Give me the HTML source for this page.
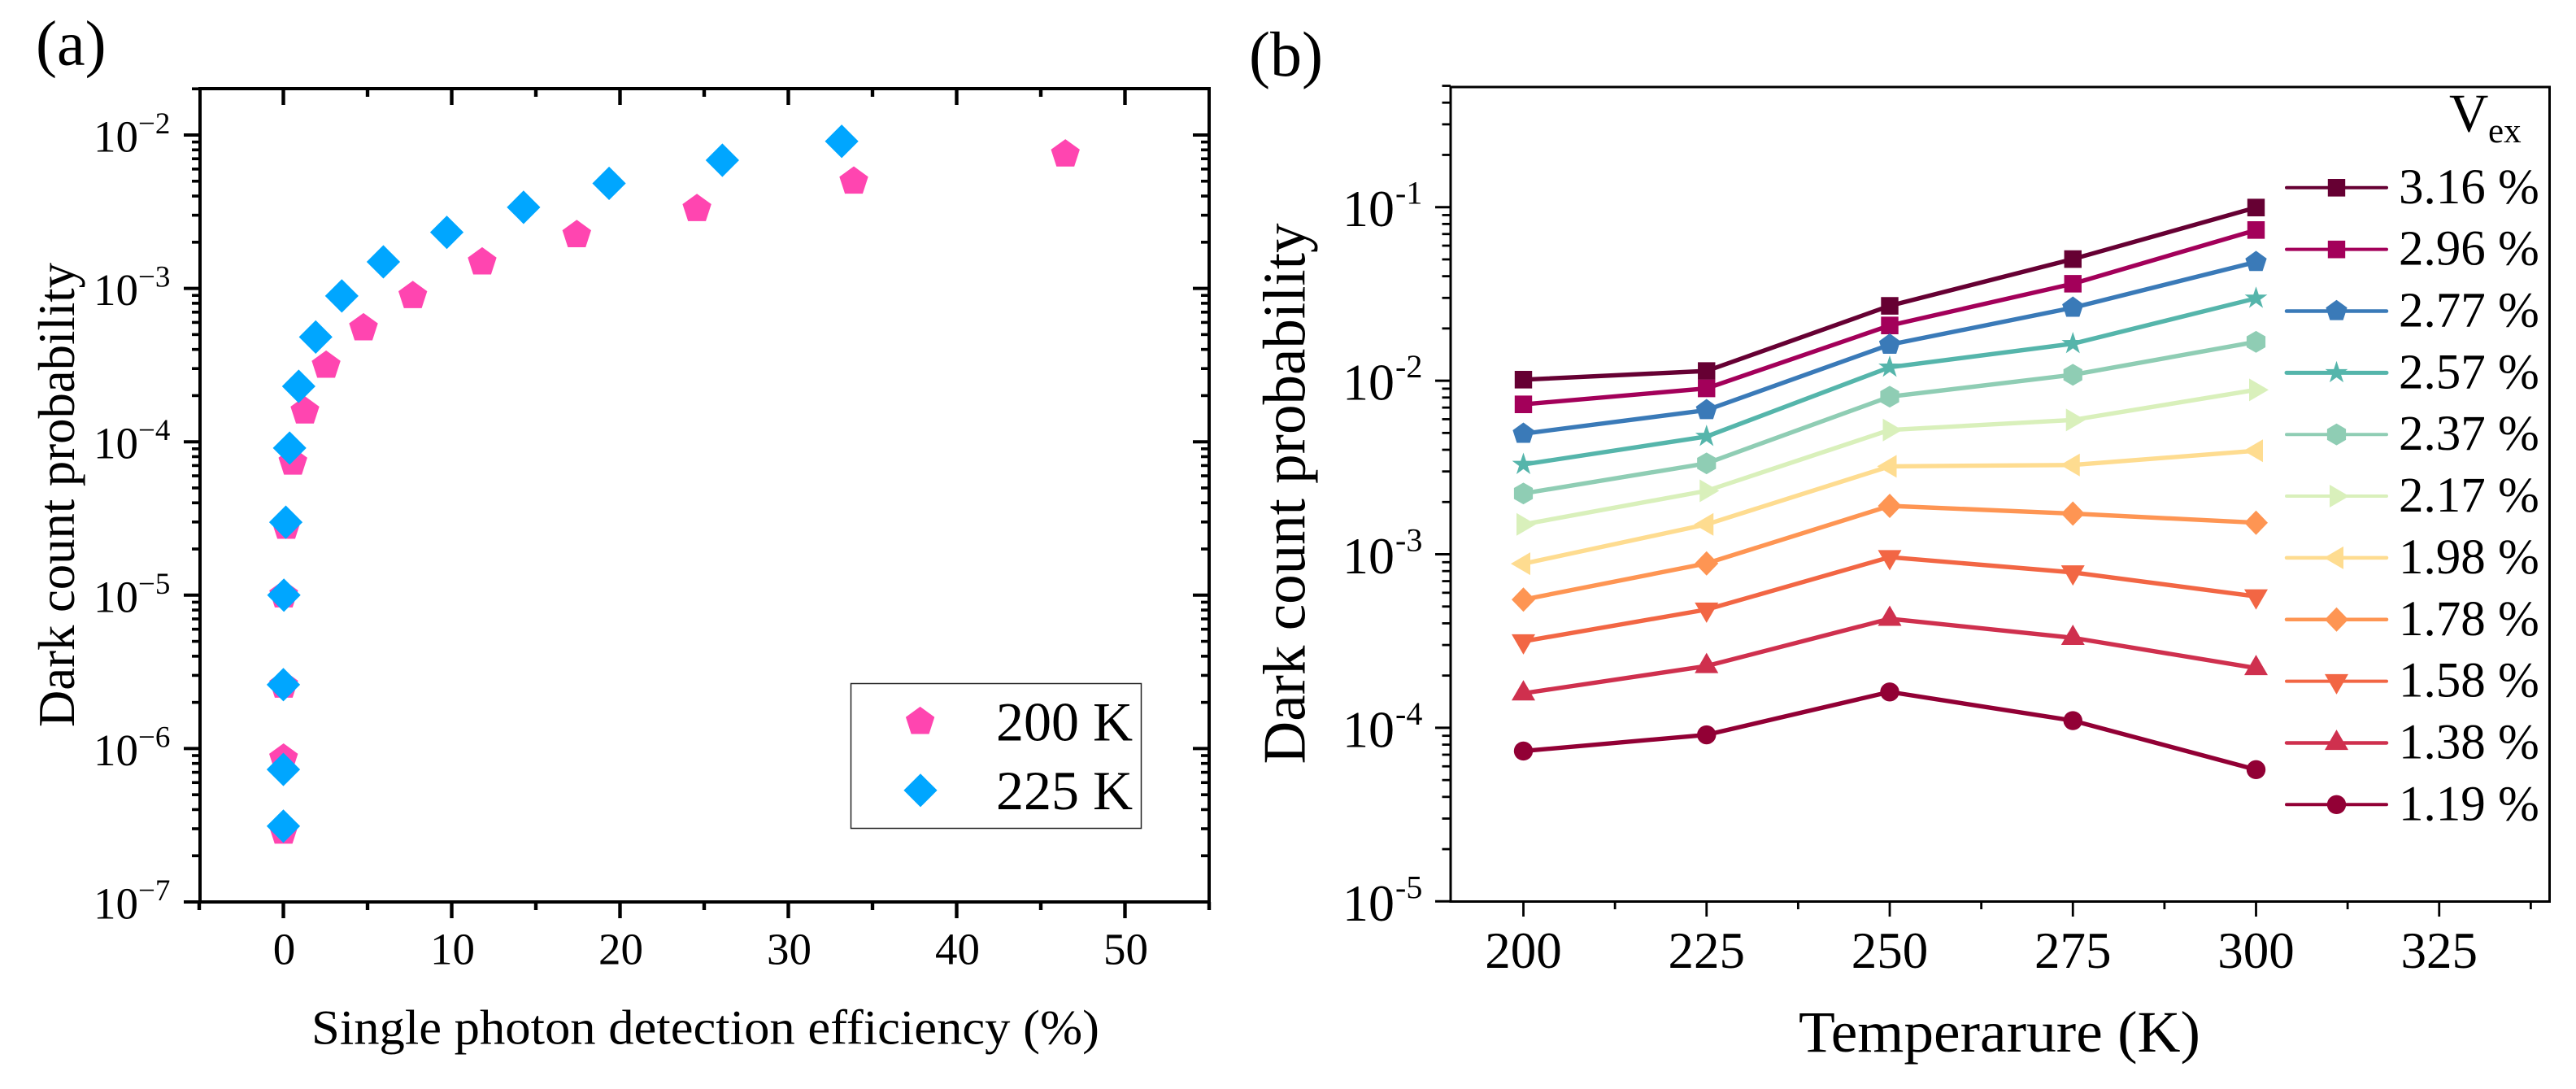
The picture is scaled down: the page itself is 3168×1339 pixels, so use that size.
<!DOCTYPE html>
<html lang="en">
<head>
<meta charset="utf-8">
<title>Dark count probability charts</title>
<style>
html,body{margin:0;padding:0;background:#fff;}
svg{display:block;}
text{font-family:"Liberation Serif","Times New Roman",serif;fill:#000;}
</style>
</head>
<body>
<svg id="figure" xmlns="http://www.w3.org/2000/svg" width="3168" height="1339" viewBox="0 0 3168 1339">
  <rect x="0" y="0" width="3168" height="1339" fill="#ffffff"/>

  <text x="44" y="79.5" font-size="78">(a)</text>
  <text x="1536" y="93" font-size="78">(b)</text>

  <g id="panel-a">
    <rect x="246" y="109" width="1241" height="1000" fill="none" stroke="#000" stroke-width="4"/>
    <g id="a-ticks"></g>
    <g id="a-marks"></g>
    <text x="383" y="1283.5" font-size="60" textLength="969" lengthAdjust="spacingAndGlyphs">Single photon detection efficiency (%)</text>
    <text transform="translate(91,894) rotate(-90)" x="0" y="0" font-size="64" textLength="571" lengthAdjust="spacingAndGlyphs">Dark count probability</text>
    <g>
      <rect x="1046.5" y="840.5" width="357" height="178" fill="#fff" stroke="#222" stroke-width="1.5"/>
      <g id="a-legend-marks"></g>
      <text x="1225" y="910.5" font-size="68">200 K</text>
      <text x="1225" y="995" font-size="68">225 K</text>
    </g>
  </g>

  <g id="panel-b">
    <rect x="1784" y="107" width="1351.5" height="1001.5" fill="none" stroke="#000" stroke-width="3"/>
    <g id="b-ticks"></g>
    <g id="b-series"></g>
    <g id="b-legend">
      <text x="3012" y="161.5" font-size="67">V</text>
      <text x="3060" y="175" font-size="43">ex</text>
    </g>
    <text x="2212" y="1293" font-size="72" textLength="494" lengthAdjust="spacingAndGlyphs">Temperarure (K)</text>
    <text transform="translate(1604.5,939.5) rotate(-90)" x="0" y="0" font-size="74" textLength="665" lengthAdjust="spacingAndGlyphs">Dark count probability</text>
  </g>
</svg>

<script>
// Panel (a) data
const efficiency200K = [46.46, 33.89, 24.57, 17.43, 11.81, 7.69, 4.76, 2.54, 1.28, 0.565, 0.17, 0.02, 0.02, 0.01, 0.01];
const darkCount200K = [7.49e-3, 4.98e-3, 3.30e-3, 2.23e-3, 1.48e-3, 8.93e-4, 5.51e-4, 3.14e-4, 1.58e-4, 7.34e-5, 2.80e-5, 1.0e-5, 2.58e-6, 8.61e-7, 2.88e-7];
const efficiency225K = [33.17, 26.08, 19.35, 14.27, 9.71, 5.94, 3.47, 1.92, 0.91, 0.37, 0.145, 0.03, 0.0, 0.0, 0.0];
const darkCount225K = [9.1e-3, 6.85e-3, 4.84e-3, 3.38e-3, 2.32e-3, 1.49e-3, 8.93e-4, 4.82e-4, 2.30e-4, 9.1e-5, 2.99e-5, 1.0e-5, 2.61e-6, 7.31e-7, 3.12e-7];
const aXTickValues = [0, 10, 20, 30, 40, 50];
const aXTickLabels = ["0", "10", "20", "30", "40", "50"];
const aXMinorValues = [-5, 5, 15, 25, 35, 45, 55];
const aYDecades = [-7, -6, -5, -4, -3, -2];
const aYExponentLabels = ["\u22127", "\u22126", "\u22125", "\u22124", "\u22123", "\u22122"];

// Panel (b) data
const temperatures = [200, 225, 250, 275, 300];
const vexLabels = ["3.16 %", "2.96 %", "2.77 %", "2.57 %", "2.37 %", "2.17 %", "1.98 %", "1.78 %", "1.58 %", "1.38 %", "1.19 %"];
const seriesV316 = [0.01014, 0.01138, 0.0270, 0.0502, 0.0995];
const seriesV296 = [0.00731, 0.00903, 0.0208, 0.0362, 0.0738];
const seriesV277 = [0.00495, 0.00677, 0.01613, 0.02634, 0.0483];
const seriesV257 = [0.00329, 0.00477, 0.01195, 0.01634, 0.02983];
const seriesV237 = [0.00224, 0.00334, 0.00809, 0.01082, 0.01675];
const seriesV217 = [0.001486, 0.00232, 0.0052, 0.00594, 0.00886];
const seriesV198 = [0.000882, 0.001486, 0.00321, 0.00327, 0.00395];
const seriesV178 = [0.000548, 0.000886, 0.0019, 0.001715, 0.00152];
const seriesV158 = [0.000315, 0.00048, 0.000962, 0.000786, 0.000572];
const seriesV138 = [0.000158, 0.000227, 0.000425, 0.00033, 0.000221];
const seriesV119 = [7.35e-5, 9.11e-5, 0.000161, 0.00011, 5.74e-5];
const bXTickValues = [200, 225, 250, 275, 300, 325];
const bXTickLabels = ["200", "225", "250", "275", "300", "325"];
const bXMinorValues = [212.5, 237.5, 262.5, 287.5, 312.5, 337.5];
const bYDecades = [-5, -4, -3, -2, -1];
const bYExponentLabels = ["-5", "-4", "-3", "-2", "-1"];

const allSeriesB = [seriesV316, seriesV296, seriesV277, seriesV257, seriesV237, seriesV217, seriesV198, seriesV178, seriesV158, seriesV138, seriesV119];
const seriesColors = ["#660033", "#A3005A", "#3A7AB8", "#55B5AB", "#8FCDB4", "#D9F0BB", "#FEDC90", "#FE9553", "#F26644", "#CF304E", "#920035"];
const seriesShapes = ["square", "square", "pentagonSmall", "star", "hexagon", "triRight", "triLeft", "diamondSmall", "triDown", "triUp", "circle"];
const seriesWidths = [4, 4, 4.5, 5, 4, 4, 4.5, 4.5, 4, 4.5, 4];
const minorMultipliers = [2, 3, 4, 5, 6, 7, 8, 9];

const SVGNS = "http://www.w3.org/2000/svg";

// Axis functions
function xA(v) { return 348.5 + (v - 0) * 20.7; }
function yA(v) { return 1109 - (Math.log10(v) + 7) * 188.6; }
function xB(v) { return 1873.5 + (v - 200) * 9.01; }
function yB(v) { return 1108.3 - (Math.log10(v) + 5) * 213.4; }

function tickLine(parent, x1, y1, x2, y2, w) {
  const l = document.createElementNS(SVGNS, "line");
  l.setAttribute("x1", x1);
  l.setAttribute("y1", y1);
  l.setAttribute("x2", x2);
  l.setAttribute("y2", y2);
  l.setAttribute("stroke", "#000");
  l.setAttribute("stroke-width", w);
  
  
  parent.appendChild(l);
}

function label(parent, str, x, y, size, anchor) {
  const t = document.createElementNS(SVGNS, "text");
  t.setAttribute("x", x);
  t.setAttribute("y", y);
  t.setAttribute("font-size", size);
  if (anchor) t.setAttribute("text-anchor", anchor);
  t.textContent = str;
  
  
  parent.appendChild(t);
}

function regularPoints(r, n, rotDeg) {
  const pts = [];
  for (let i = 0; i < n; i++) {
    const a = (rotDeg + i * 360 / n - 90) * Math.PI / 180;
    pts.push([r * Math.cos(a), r * Math.sin(a)]);
  }
  return pts;
}

function shapePoints(shape) {
  if (shape === "pentagonLarge") return regularPoints(18.6, 5, 0);
  if (shape === "pentagonSmall") return regularPoints(13.8, 5, 0);
  if (shape === "diamondLarge") return [[0, -20.6], [20.6, 0], [0, 20.6], [-20.6, 0]];
  if (shape === "diamondSmall") return [[0, -15], [14.5, 0], [0, 15], [-14.5, 0]];
  if (shape === "square") return [[-10.7, -10.8], [10.7, -10.8], [10.7, 10.8], [-10.7, 10.8]];
  if (shape === "hexagon") return regularPoints(13.4, 6, 0);
  if (shape === "triRight") return [[-8.5, -14], [15.5, 0], [-8.5, 14]];
  if (shape === "triLeft") return [[8.5, -14], [8.5, 14], [-15.5, 0]];
  if (shape === "triDown") return [[-14.5, -8.7], [14.5, -8.7], [0, 16.3]];
  if (shape === "triUp") return [[0, -16.3], [14.5, 8.7], [-14.5, 8.7]];
  if (shape === "star") {
    const outer = regularPoints(14.6, 5, 0);
    const inner = regularPoints(5.6, 5, 36);
    const pts = [];
    for (let i = 0; i < 5; i++) { pts.push(outer[i]); pts.push(inner[i]); }
    return pts;
  }
  return null;
}

function drawMarker(parent, shape, cx, cy, color) {
  let m;
  if (shape === "circle") {
    m = document.createElementNS(SVGNS, "circle");
    m.setAttribute("cx", cx);
    m.setAttribute("cy", cy);
    m.setAttribute("r", 11.7);
  } else {
    m = document.createElementNS(SVGNS, "polygon");
    m.setAttribute("points", shapePoints(shape).map(p => (cx + p[0]).toFixed(2) + "," + (cy + p[1]).toFixed(2)).join(" "));
  }
  m.setAttribute("fill", color);
  
  
  parent.appendChild(m);
}

// Panel (a) ticks
const aTicks = document.getElementById("a-ticks");
aXTickValues.forEach((v, i) => {
  tickLine(aTicks, xA(v), 1109, xA(v), 1129, 4.4);
  tickLine(aTicks, xA(v), 109, xA(v), 129, 4.4);
  label(aTicks, aXTickLabels[i], xA(v) + 1, 1185.5, 55, "middle");
});
aXMinorValues.forEach(v => {
  tickLine(aTicks, xA(v), 1109, xA(v), 1119, 4.4);
  if (v > -5 && v < 55) tickLine(aTicks, xA(v), 109, xA(v), 119, 4.4);
});
aYDecades.forEach((d, i) => {
  const v = Math.pow(10, d);
  tickLine(aTicks, 226, yA(v), 246, yA(v), 4);
  tickLine(aTicks, 1467, yA(v), 1487, yA(v), 4);
  label(aTicks, "10", 115, yA(v) + 20.5, 55);
  label(aTicks, aYExponentLabels[i], 170, yA(v) - 2, 37);
  minorMultipliers.forEach(k => {
    const mv = k * v;
    if (mv <= 0.0201) {
      tickLine(aTicks, 236, yA(mv), 246, yA(mv), 3.6);
      if (mv < 0.0199) tickLine(aTicks, 1477, yA(mv), 1487, yA(mv), 3.6);
    }
  });
});

// Panel (a) scatter
const aMarks = document.getElementById("a-marks");
efficiency200K.forEach((e, i) => {
  drawMarker(aMarks, "pentagonLarge", xA(e), yA(darkCount200K[i]), "#FF45B0");
});
efficiency225K.forEach((e, i) => {
  drawMarker(aMarks, "diamondLarge", xA(e), yA(darkCount225K[i]), "#00A6FF");
});
const aLegendMarks = document.getElementById("a-legend-marks");
drawMarker(aLegendMarks, "pentagonLarge", 1131.6, 887.5, "#FF45B0");
drawMarker(aLegendMarks, "diamondLarge", 1132, 971.8, "#00A6FF");

// Panel (b) ticks
const bTicks = document.getElementById("b-ticks");
bXTickValues.forEach((v, i) => {
  tickLine(bTicks, xB(v), 1108.3, xB(v), 1127, 2.8);
  label(bTicks, bXTickLabels[i], xB(v), 1190, 63, "middle");
});
bXMinorValues.forEach(v => {
  tickLine(bTicks, xB(v), 1108.3, xB(v), 1118, 2.8);
});
bYDecades.forEach((d, i) => {
  const v = Math.pow(10, d);
  tickLine(bTicks, 1765, yB(v), 1784, yB(v), 3);
  label(bTicks, "10", 1651, yB(v) + 23.5, 64);
  label(bTicks, bYExponentLabels[i], 1716, yB(v) - 4, 40);
  minorMultipliers.forEach(k => {
    const mv = k * v;
    if (mv <= 0.501) tickLine(bTicks, 1773.5, yB(mv), 1784, yB(mv), 2.8);
  });
});

// Panel (b) series
const bSeries = document.getElementById("b-series");
allSeriesB.forEach((vals, s) => {
  const g = document.createElementNS(SVGNS, "g");
  
  
  bSeries.appendChild(g);
  const pl = document.createElementNS(SVGNS, "polyline");
  pl.setAttribute("points", vals.map((v, i) => xB(temperatures[i]).toFixed(2) + "," + yB(v).toFixed(2)).join(" "));
  pl.setAttribute("fill", "none");
  pl.setAttribute("stroke", seriesColors[s]);
  pl.setAttribute("stroke-width", 5.4);
  pl.setAttribute("stroke-linejoin", "round");
  
  
  g.appendChild(pl);
  vals.forEach((v, i) => {
    drawMarker(g, seriesShapes[s], xB(temperatures[i]), yB(v), seriesColors[s]);
  });
});

// Panel (b) legend
const bLegend = document.getElementById("b-legend");
vexLabels.forEach((name, s) => {
  const y = 230.8 + s * 75.85;
  const row = document.createElementNS(SVGNS, "g");
  
  
  bLegend.appendChild(row);
  const line = document.createElementNS(SVGNS, "line");
  line.setAttribute("x1", 2812);
  line.setAttribute("x2", 2935);
  line.setAttribute("y1", y);
  line.setAttribute("y2", y);
  line.setAttribute("stroke", seriesColors[s]);
  line.setAttribute("stroke-width", seriesWidths[s]);
  line.setAttribute("stroke-linecap", "round");
  
  
  row.appendChild(line);
  drawMarker(row, seriesShapes[s], 2873.5, y, seriesColors[s]);
  const t = document.createElementNS(SVGNS, "text");
  t.setAttribute("x", 2950);
  t.setAttribute("y", y + 19);
  t.setAttribute("font-size", 61);
  t.textContent = name;
  
  
  row.appendChild(t);
});
</script>
</body>
</html>
